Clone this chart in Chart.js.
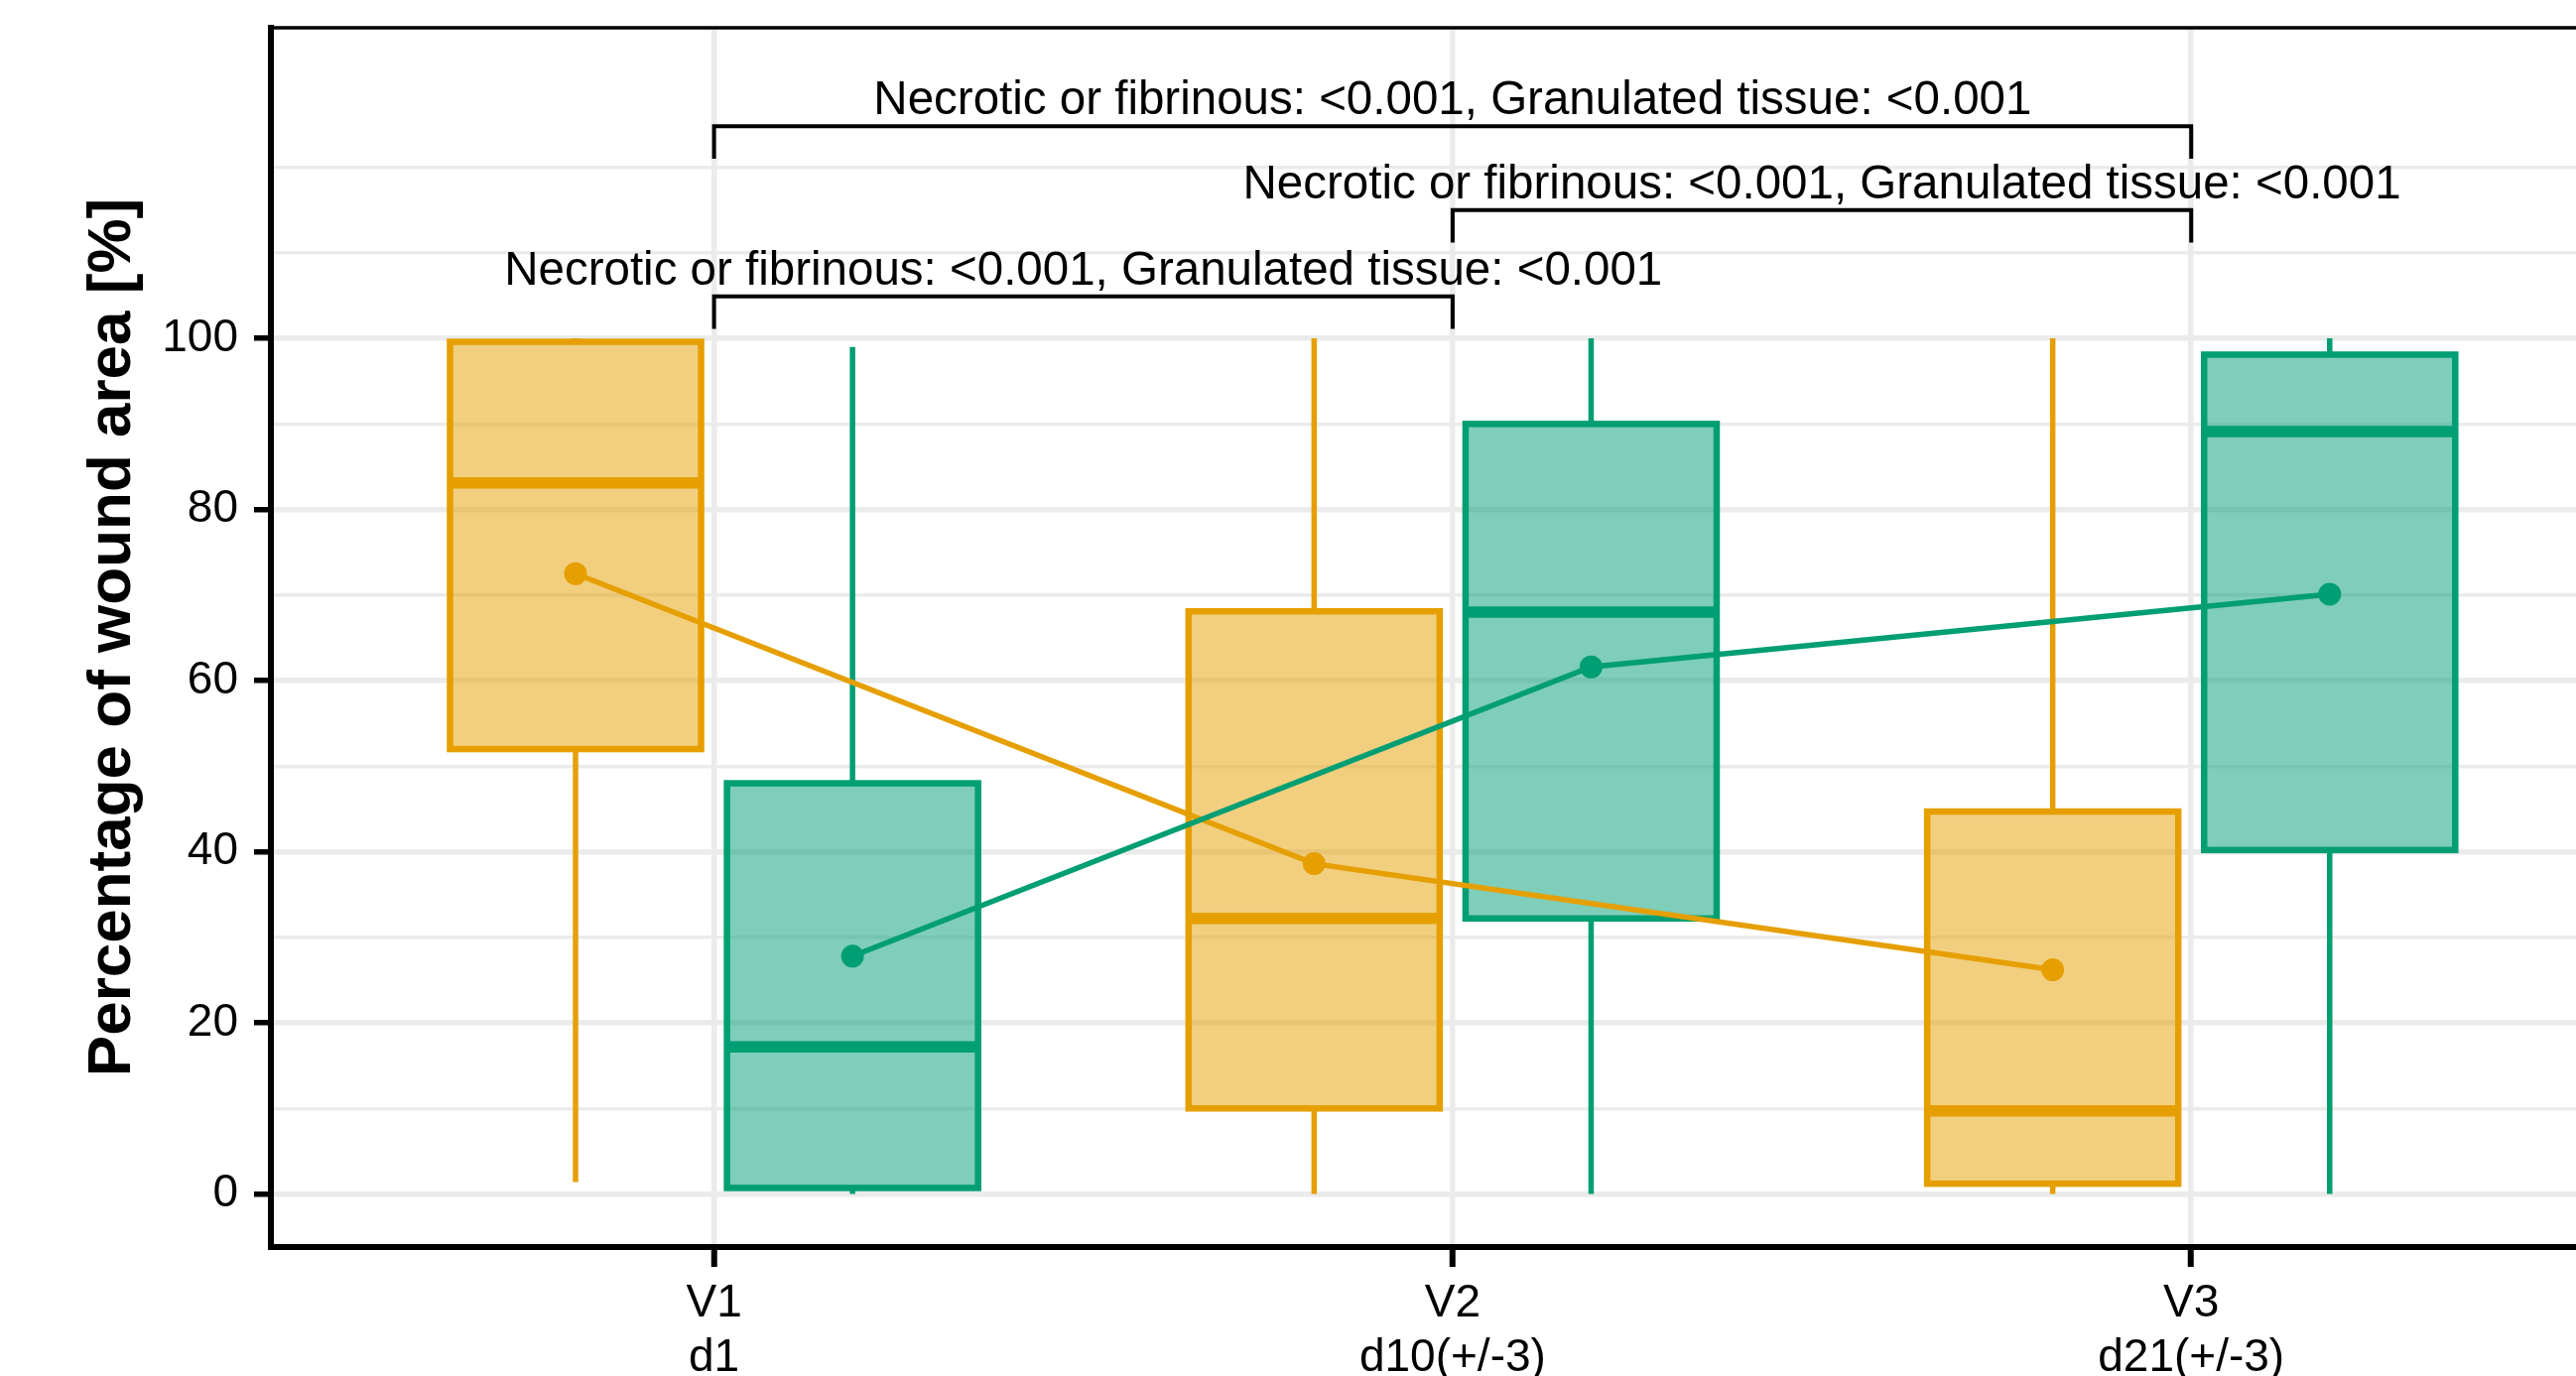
<!DOCTYPE html>
<html>
<head>
<meta charset="utf-8">
<title>Percentage of wound area</title>
<script src="https://cdn.jsdelivr.net/npm/chart.js@4.4.1/dist/chart.umd.min.js"></script>
<style>
    html, body { margin: 0; padding: 0; background: #fff; overflow: hidden; }
    canvas { display: block; }
</style>
</head>
<body>
<canvas id="myChart" width="2596" height="1387"></canvas>
<script>
const visitLabels = [['V1', 'd1'], ['V2', 'd10(+/-3)'], ['V3', 'd21(+/-3)']];
const tissueNames = ['Necrotic or fibrinous', 'Granulated tissue'];
const tissueColors = ['#E69F00', '#009E73'];
const tissueFills = ['rgba(230, 159, 0, 0.5)', 'rgba(0, 158, 115, 0.5)'];

// necrotic or fibrinous, per visit
const necroticMin = [1.4, 0, 0];
const necroticQ1 = [52, 10, 1.2];
const necroticMedian = [83.1, 32.2, 9.7];
const necroticQ3 = [99.6, 68.1, 44.7];
const necroticMax = [100, 100, 100];
const necroticMean = [72.5, 38.6, 26.2];

// granulated tissue, per visit
const granulatedMin = [0, 0, 0];
const granulatedQ1 = [0.7, 32.2, 40.2];
const granulatedMedian = [17.2, 68, 89.1];
const granulatedQ3 = [48, 90, 98.1];
const granulatedMax = [99, 100, 100];
const granulatedMean = [27.8, 61.6, 70.1];

const yTicks = [0, 10, 20, 30, 40, 50, 60, 70, 80, 90, 100, 110, 120];

// pairwise comparisons
const compFrom = [0, 1, 0];
const compTo = [2, 2, 1];
const compY = [124.8, 115, 104.9];
const compText = [
    'Necrotic or fibrinous: <0.001, Granulated tissue: <0.001',
    'Necrotic or fibrinous: <0.001, Granulated tissue: <0.001',
    'Necrotic or fibrinous: <0.001, Granulated tissue: <0.001'
];

const dodge = [-0.1875, 0.1875];
const boxWidth = 0.34;
const tipLength = 3.8;
const fontFamily = '"Liberation Sans", Arial, sans-serif';

const groups = [
    {min: necroticMin, q1: necroticQ1, median: necroticMedian, q3: necroticQ3, max: necroticMax},
    {min: granulatedMin, q1: granulatedQ1, median: granulatedMedian, q3: granulatedQ3, max: granulatedMax}
];

function isMajor(v) {
    return v % 20 === 0 && v <= 100;
}

const boxPlugin = {
    id: 'boxes',
    beforeDatasetsDraw(chart) {
        const ctx = chart.ctx;
        const xs = chart.scales.x;
        const ys = chart.scales.y;
        const half = (xs.getPixelForValue(boxWidth) - xs.getPixelForValue(0)) / 2;

        ctx.save();
        for (let k = 0; k < groups.length; k++) {
            const g = groups[k];
            for (let i = 0; i < visitLabels.length; i++) {
                const cx = xs.getPixelForValue(i + dodge[k]);
                const yMin = ys.getPixelForValue(g.min[i]);
                const yQ1 = ys.getPixelForValue(g.q1[i]);
                const yMed = ys.getPixelForValue(g.median[i]);
                const yQ3 = ys.getPixelForValue(g.q3[i]);
                const yMax = ys.getPixelForValue(g.max[i]);

                ctx.strokeStyle = tissueColors[k];
                ctx.lineWidth = 5.5;
                ctx.beginPath();
                ctx.moveTo(cx, yQ3);
                ctx.lineTo(cx, yMax);
                ctx.moveTo(cx, yQ1);
                ctx.lineTo(cx, yMin);
                ctx.stroke();

                ctx.fillStyle = tissueFills[k];
                ctx.fillRect(cx - half, yQ3, half * 2, yQ1 - yQ3);
                ctx.lineWidth = 6.5;
                ctx.strokeRect(cx - half, yQ3, half * 2, yQ1 - yQ3);

                ctx.lineWidth = 11.5;
                ctx.beginPath();
                ctx.moveTo(cx - half, yMed);
                ctx.lineTo(cx + half, yMed);
                ctx.stroke();
            }
        }
        ctx.restore();
    },
    afterDatasetsDraw(chart) {
        const ctx = chart.ctx;
        const xs = chart.scales.x;
        const ys = chart.scales.y;
        const area = chart.chartArea;

        ctx.save();
        ctx.strokeStyle = '#000';
        ctx.lineWidth = 3.5;
        ctx.beginPath();
        ctx.moveTo(area.left, area.top);
        ctx.lineTo(chart.width, area.top);
        ctx.stroke();

        ctx.lineWidth = 4;
        ctx.fillStyle = '#000';
        ctx.font = '47.5px ' + fontFamily;
        ctx.textAlign = 'center';
        ctx.textBaseline = 'alphabetic';
        for (let i = 0; i < compText.length; i++) {
            const x1 = xs.getPixelForValue(compFrom[i]);
            const x2 = xs.getPixelForValue(compTo[i]);
            const yTop = ys.getPixelForValue(compY[i]);
            const yTip = ys.getPixelForValue(compY[i] - tipLength);
            ctx.beginPath();
            ctx.moveTo(x1, yTip);
            ctx.lineTo(x1, yTop);
            ctx.lineTo(x2, yTop);
            ctx.lineTo(x2, yTip);
            ctx.stroke();
            ctx.fillText(compText[i], (x1 + x2) / 2, yTop - 12);
        }
        ctx.restore();
    }
};

function meanPoints(means, k) {
    return means.map((v, i) => ({x: i + dodge[k], y: v}));
}

const ctx = document.getElementById('myChart').getContext('2d');

const myChart = new Chart(ctx, {
    type: 'line',
    data: {
        datasets: [{
            label: tissueNames[0],
            data: meanPoints(necroticMean, 0),
            borderColor: tissueColors[0],
            backgroundColor: tissueColors[0],
            borderWidth: 5.5,
            pointRadius: 11.5,
            pointHoverRadius: 11.5,
            pointBorderWidth: 0,
            tension: 0,
            order: 2
        }, {
            label: tissueNames[1],
            data: meanPoints(granulatedMean, 1),
            borderColor: tissueColors[1],
            backgroundColor: tissueColors[1],
            borderWidth: 5.5,
            pointRadius: 11.5,
            pointHoverRadius: 11.5,
            pointBorderWidth: 0,
            tension: 0,
            order: 1
        }]
    },
    options: {
        responsive: false,
        devicePixelRatio: 1,
        animation: false,
        layout: {
            autoPadding: false,
            padding: {top: 28, right: 0, bottom: 0, left: 0}
        },
        plugins: {
            legend: {display: false},
            tooltip: {enabled: false}
        },
        scales: {
            x: {
                type: 'linear',
                min: -0.6,
                max: 2.521,
                afterBuildTicks: scale => {
                    scale.ticks = visitLabels.map((l, i) => ({value: i}));
                },
                afterFit: scale => {
                    scale.height = 130;
                    scale.paddingLeft = 0;
                    scale.paddingRight = 0;
                },
                ticks: {
                    autoSkip: false,
                    maxRotation: 0,
                    padding: 10,
                    color: '#000',
                    font: {family: fontFamily, size: 46, lineHeight: 1.2},
                    callback: value => visitLabels[value]
                },
                grid: {
                    color: '#EBEBEB',
                    lineWidth: 5.5,
                    tickColor: '#000',
                    tickWidth: 6,
                    tickLength: 20
                },
                border: {color: '#000', width: 6}
            },
            y: {
                type: 'linear',
                min: -6.2,
                max: 136.3,
                afterBuildTicks: scale => {
                    scale.ticks = yTicks.map(v => ({value: v}));
                },
                afterFit: scale => {
                    scale.width = 273;
                    scale.paddingTop = 0;
                    scale.paddingBottom = 0;
                },
                ticks: {
                    autoSkip: false,
                    padding: 16,
                    color: '#000',
                    font: {family: fontFamily, size: 46},
                    callback: value => isMajor(value) ? String(value) : ''
                },
                grid: {
                    color: '#EBEBEB',
                    lineWidth: c => (c.tick && isMajor(c.tick.value)) ? 5.5 : 3.5,
                    tickColor: c => (c.tick && isMajor(c.tick.value)) ? '#000' : 'rgba(0,0,0,0)',
                    tickWidth: 5.5,
                    tickLength: 17
                },
                border: {color: '#000', width: 6},
                title: {
                    display: true,
                    text: 'Percentage of wound area [%]',
                    color: '#000',
                    font: {family: fontFamily, size: 62, weight: 'bold'},
                    padding: {top: 77, bottom: 0}
                }
            }
        }
    },
    plugins: [boxPlugin]
});
</script>
</body>
</html>
